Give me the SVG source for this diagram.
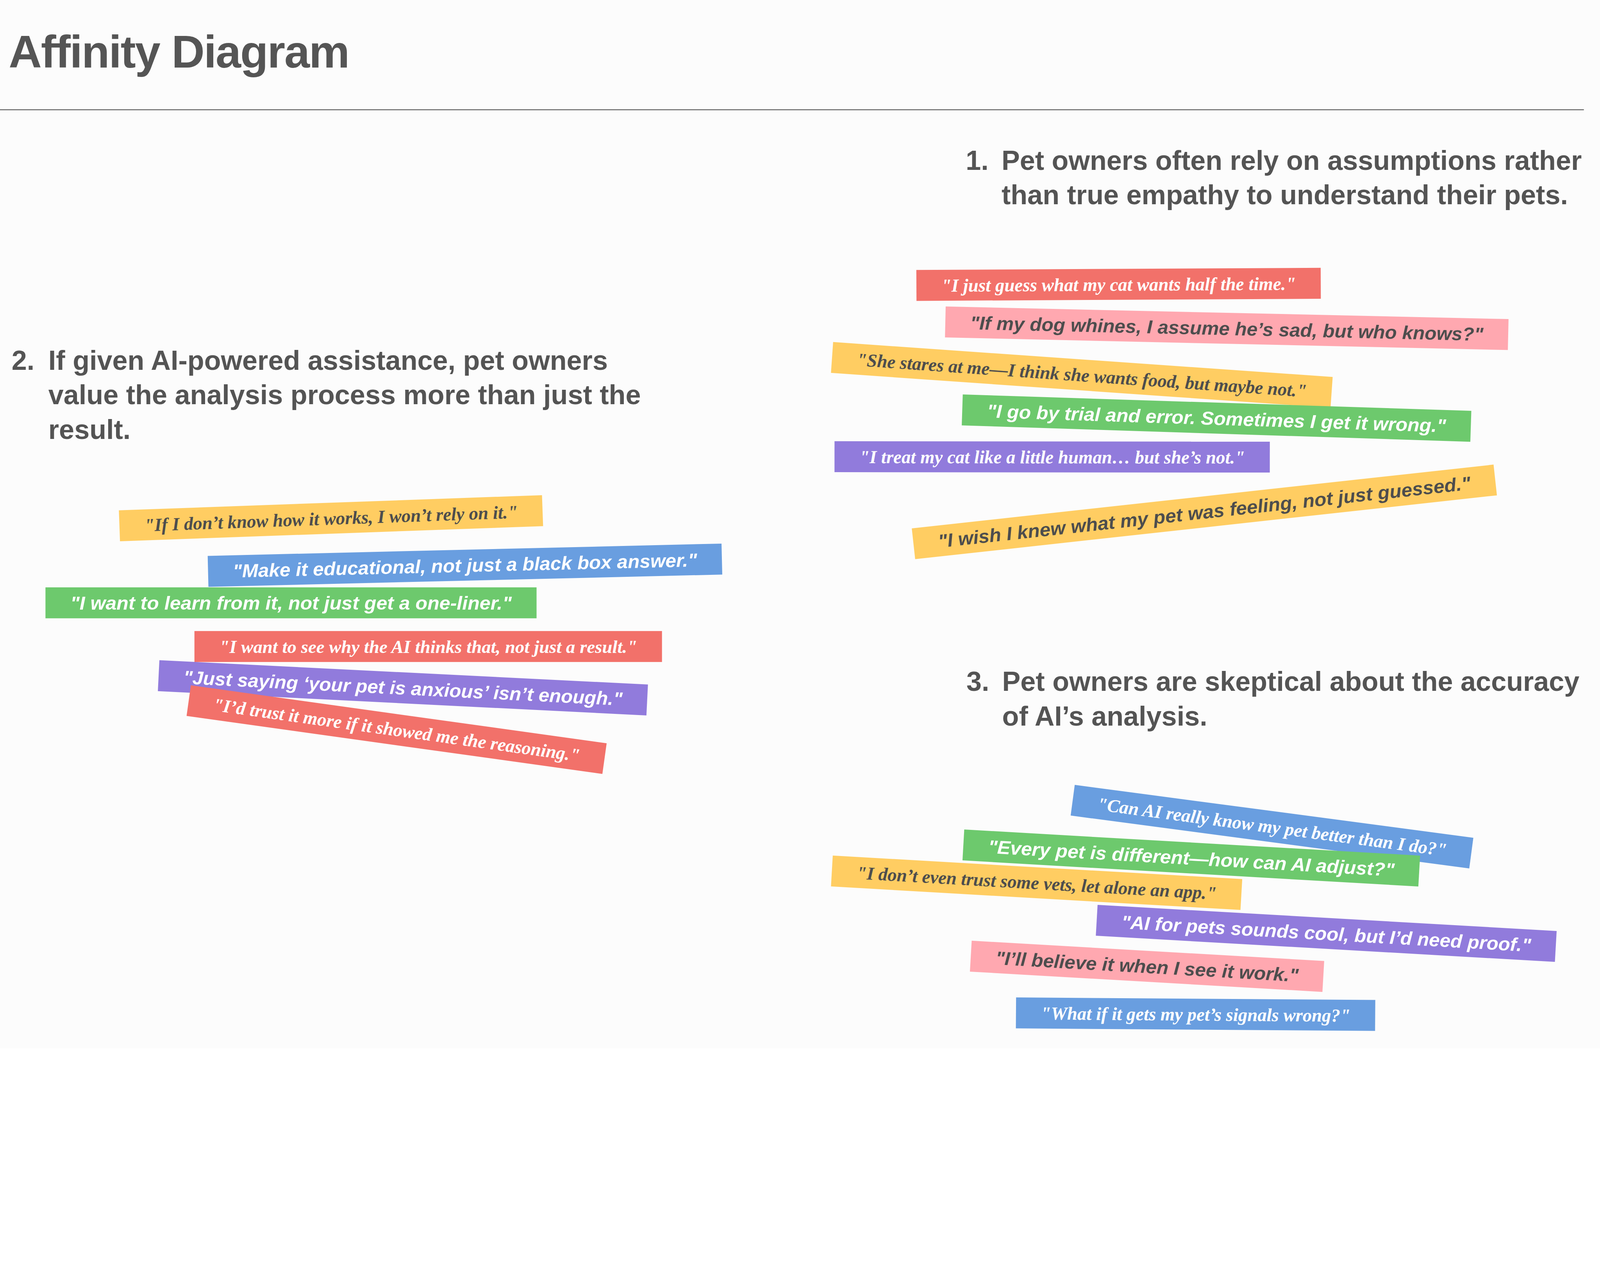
<svg xmlns="http://www.w3.org/2000/svg" width="4962" height="3252" viewBox="0 0 4962 3252" preserveAspectRatio="xMinYMin meet" style="width:100vw;height:100vh;display:block">
<style>
.bg{fill:#fcfcfc}
.title{font-family:"Liberation Sans",Arial,sans-serif;font-weight:bold;font-size:142px;fill:#555555;letter-spacing:-2.6px}
.head{font-family:"Liberation Sans",Arial,sans-serif;font-weight:bold;font-size:85px;fill:#545454}
.serif{font-family:"Liberation Serif","Times New Roman",serif;font-weight:bold;font-style:italic;font-size:57px;text-anchor:middle}
.sans{font-family:"Liberation Sans",Arial,sans-serif;font-weight:bold;font-style:italic;font-size:58px;text-anchor:middle}
.w{fill:#ffffff}
.d{fill:#4d4d4d}
.red{fill:#f2716a}
.pink{fill:#ffa8b0}
.yellow{fill:#ffcd62}
.green{fill:#6dc96d}
.purple{fill:#917bdc}
.blue{fill:#699ee0}
</style>
<rect class="bg" x="0" y="0" width="4962" height="3252"/>

<g id="title">
<text class="title" x="27" y="210">Affinity Diagram</text>
<line x1="0" y1="340.5" x2="4912" y2="340.5" stroke="#666666" stroke-width="3"/>
</g>

<g id="heading-1">
<text class="head" x="2995" y="527">1.</text>
<text class="head" x="3106" y="527">Pet owners often rely on assumptions rather</text>
<text class="head" x="3106" y="634">than true empathy to understand their pets.</text>
</g>

<g id="heading-2">
<text class="head" x="36" y="1147">2.</text>
<text class="head" x="150" y="1147">If given AI-powered assistance, pet owners</text>
<text class="head" x="150" y="1254">value the analysis process more than just the</text>
<text class="head" x="150" y="1362">result.</text>
</g>

<g id="heading-3">
<text class="head" x="2997" y="2143">3.</text>
<text class="head" x="3108" y="2143">Pet owners are skeptical about the accuracy</text>
<text class="head" x="3108" y="2251">of AI’s analysis.</text>
</g>

<!-- Group 1 notes -->
<g id="note-1" transform="translate(3469,882) rotate(-0.3)">
<rect class="red" x="-627" y="-48" width="1254" height="96"/>
<text class="serif w" x="0" y="20" textLength="1100" lengthAdjust="spacingAndGlyphs">"I just guess what my cat wants half the time."</text>
</g>
<g id="note-2" transform="translate(3804.5,1018.3) rotate(1.28)">
<rect class="pink" x="-873" y="-48" width="1746" height="96"/>
<text class="sans d" x="0" y="21" textLength="1592" lengthAdjust="spacingAndGlyphs">"If my dog whines, I assume he’s sad, but who knows?"</text>
</g>
<g id="note-3" transform="translate(3355,1163) rotate(4.0)">
<rect class="yellow" x="-776.5" y="-48" width="1553" height="96"/>
<text class="serif d" x="0" y="20" textLength="1399" lengthAdjust="spacingAndGlyphs">"She stares at me—I think she wants food, but maybe not."</text>
</g>
<g id="note-4" transform="translate(3772.8,1297) rotate(1.85)">
<rect class="green" x="-789" y="-48" width="1578" height="96"/>
<text class="sans w" x="0" y="21" textLength="1424" lengthAdjust="spacingAndGlyphs">"I go by trial and error. Sometimes I get it wrong."</text>
</g>
<g id="note-5" transform="translate(3263,1417.3) rotate(0.05)">
<rect class="purple" x="-675" y="-48" width="1350" height="96"/>
<text class="serif w" x="0" y="20" textLength="1196" lengthAdjust="spacingAndGlyphs">"I treat my cat like a little human… but she’s not."</text>
</g>
<g id="note-6" transform="translate(3735,1587.8) rotate(-6.26)">
<rect class="yellow" x="-907.5" y="-48" width="1815" height="96"/>
<text class="sans d" x="0" y="21" textLength="1661" lengthAdjust="spacingAndGlyphs">"I wish I knew what my pet was feeling, not just guessed."</text>
</g>

<!-- Group 2 notes -->
<g id="note-7" transform="translate(1026.5,1607.5) rotate(-2.05)">
<rect class="yellow" x="-656.5" y="-48" width="1313" height="96"/>
<text class="serif d" x="0" y="20" textLength="1159" lengthAdjust="spacingAndGlyphs">"If I don’t know how it works, I won’t rely on it."</text>
</g>
<g id="note-8" transform="translate(1442,1753.3) rotate(-1.37)">
<rect class="blue" x="-797" y="-48" width="1594" height="96"/>
<text class="sans w" x="0" y="21" textLength="1440" lengthAdjust="spacingAndGlyphs">"Make it educational, not just a black box answer."</text>
</g>
<g id="note-9" transform="translate(902.5,1870)">
<rect class="green" x="-761.5" y="-48" width="1523" height="96"/>
<text class="sans w" x="0" y="21" textLength="1369" lengthAdjust="spacingAndGlyphs">"I want to learn from it, not just get a one-liner."</text>
</g>
<g id="note-10" transform="translate(1328,2005.5)">
<rect class="red" x="-725" y="-48" width="1450" height="96"/>
<text class="serif w" x="0" y="20" textLength="1296" lengthAdjust="spacingAndGlyphs">"I want to see why the AI thinks that, not just a result."</text>
</g>
<g id="note-11" transform="translate(1249.5,2133.6) rotate(2.85)">
<rect class="purple" x="-758.5" y="-48" width="1517" height="96"/>
<text class="sans w" x="0" y="21" textLength="1363" lengthAdjust="spacingAndGlyphs">"Just saying ‘your pet is anxious’ isn’t enough."</text>
</g>
<g id="note-12" transform="translate(1230,2263.3) rotate(7.94)">
<rect class="red" x="-651" y="-48" width="1302" height="96"/>
<text class="serif w" x="0" y="20" textLength="1148" lengthAdjust="spacingAndGlyphs">"I’d trust it more if it showed me the reasoning."</text>
</g>

<!-- Group 3 notes -->
<g id="note-13" transform="translate(3944.8,2564.3) rotate(7.56)">
<rect class="blue" x="-623.5" y="-48" width="1247" height="96"/>
<text class="serif w" x="0" y="20" textLength="1093" lengthAdjust="spacingAndGlyphs">"Can AI really know my pet better than I do?"</text>
</g>
<g id="note-14" transform="translate(3694.5,2661.5) rotate(3.28)">
<rect class="green" x="-708" y="-48" width="1416" height="96"/>
<text class="sans w" x="0" y="21" textLength="1262" lengthAdjust="spacingAndGlyphs">"Every pet is different—how can AI adjust?"</text>
</g>
<g id="note-15" transform="translate(3214.8,2738.3) rotate(3.29)">
<rect class="yellow" x="-636" y="-48" width="1272" height="96"/>
<text class="serif d" x="0" y="20" textLength="1118" lengthAdjust="spacingAndGlyphs">"I don’t even trust some vets, let alone an app."</text>
</g>
<g id="note-16" transform="translate(4113,2895.3) rotate(3.26)">
<rect class="purple" x="-713" y="-48" width="1426" height="96"/>
<text class="sans w" x="0" y="21" textLength="1272" lengthAdjust="spacingAndGlyphs">"AI for pets sounds cool, but I’d need proof."</text>
</g>
<g id="note-17" transform="translate(3557.3,2997.5) rotate(3.3)">
<rect class="pink" x="-547.5" y="-48" width="1095" height="96"/>
<text class="sans d" x="0" y="21" textLength="941" lengthAdjust="spacingAndGlyphs">"I’ll believe it when I see it work."</text>
</g>
<g id="note-18" transform="translate(3707.8,3146) rotate(0.41)">
<rect class="blue" x="-557" y="-48" width="1114" height="96"/>
<text class="serif w" x="0" y="20" textLength="960" lengthAdjust="spacingAndGlyphs">"What if it gets my pet’s signals wrong?"</text>
</g>
</svg>
